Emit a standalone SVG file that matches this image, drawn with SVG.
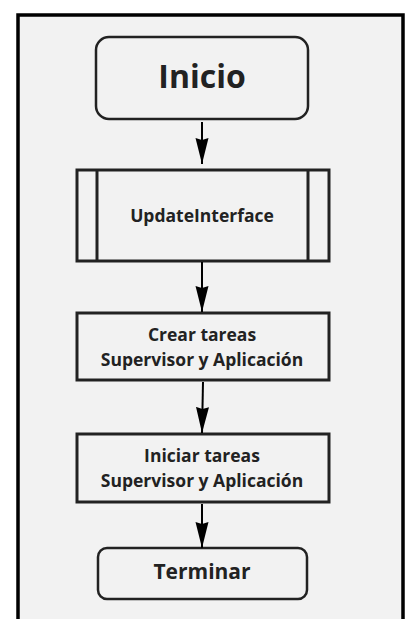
<svg xmlns="http://www.w3.org/2000/svg" width="410" height="619" viewBox="0 0 410 619">
  <defs>
    <marker id="arrow" markerWidth="26" markerHeight="14" refX="26" refY="7" orient="auto" markerUnits="userSpaceOnUse" viewBox="0 0 26 14">
      <path d="M0,0.5 L26,7 L0,13.5 L2,7 Z" fill="#000"/>
    </marker>
    <style>
      .frame { fill: #f2f2f2; stroke: #000; stroke-width: 3.5; }
      .node { fill: #f2f2f2; stroke: #222; stroke-width: 3; }
      .term { fill: #f2f2f2; stroke: #222; stroke-width: 2.5; }
      .lbl { font-family: "Open Sans", "Noto Sans", sans-serif; font-weight: bold; fill: #222; text-anchor: middle; }
      .edge { stroke: #000; stroke-width: 2; fill: none; marker-end: url(#arrow); }
    </style>
  </defs>
  <rect width="410" height="619" fill="#fff"/>
  <!-- outer frame, open at the bottom -->
  <path class="frame" d="M18,625 L18,15 L403,15 L403,625"/>

  <g id="inicio">
    <rect class="term" x="96" y="37" width="212" height="82" rx="13"/>
    <text class="lbl" x="202" y="88" font-size="32">Inicio</text>
  </g>

  <g id="update-interface">
    <rect class="node" x="77" y="170" width="252" height="91"/>
    <line class="node" x1="97" y1="170" x2="97" y2="261"/>
    <line class="node" x1="308" y1="170" x2="308" y2="261"/>
    <text class="lbl" x="202" y="222" font-size="17.5">UpdateInterface</text>
  </g>

  <g id="crear-tareas">
    <rect class="node" x="77" y="313" width="252" height="67"/>
    <text class="lbl" x="202" y="341" font-size="17.5">Crear tareas</text>
    <text class="lbl" x="202" y="366" font-size="17.5">Supervisor y Aplicación</text>
  </g>

  <g id="iniciar-tareas">
    <rect class="node" x="77" y="434" width="252" height="68"/>
    <text class="lbl" x="202" y="462" font-size="17.5">Iniciar tareas</text>
    <text class="lbl" x="202" y="487" font-size="17.5">Supervisor y Aplicación</text>
  </g>

  <g id="terminar">
    <rect class="term" x="98" y="548" width="209" height="51" rx="9"/>
    <text class="lbl" x="202" y="579" font-size="21">Terminar</text>
  </g>

  <g id="connectors">
    <line class="edge" x1="202" y1="122" x2="202" y2="164"/>
    <line class="edge" x1="202" y1="262" x2="202" y2="312"/>
    <line class="edge" x1="203" y1="382" x2="202" y2="433"/>
    <line class="edge" x1="202" y1="504" x2="202" y2="548"/>
  </g>
</svg>
